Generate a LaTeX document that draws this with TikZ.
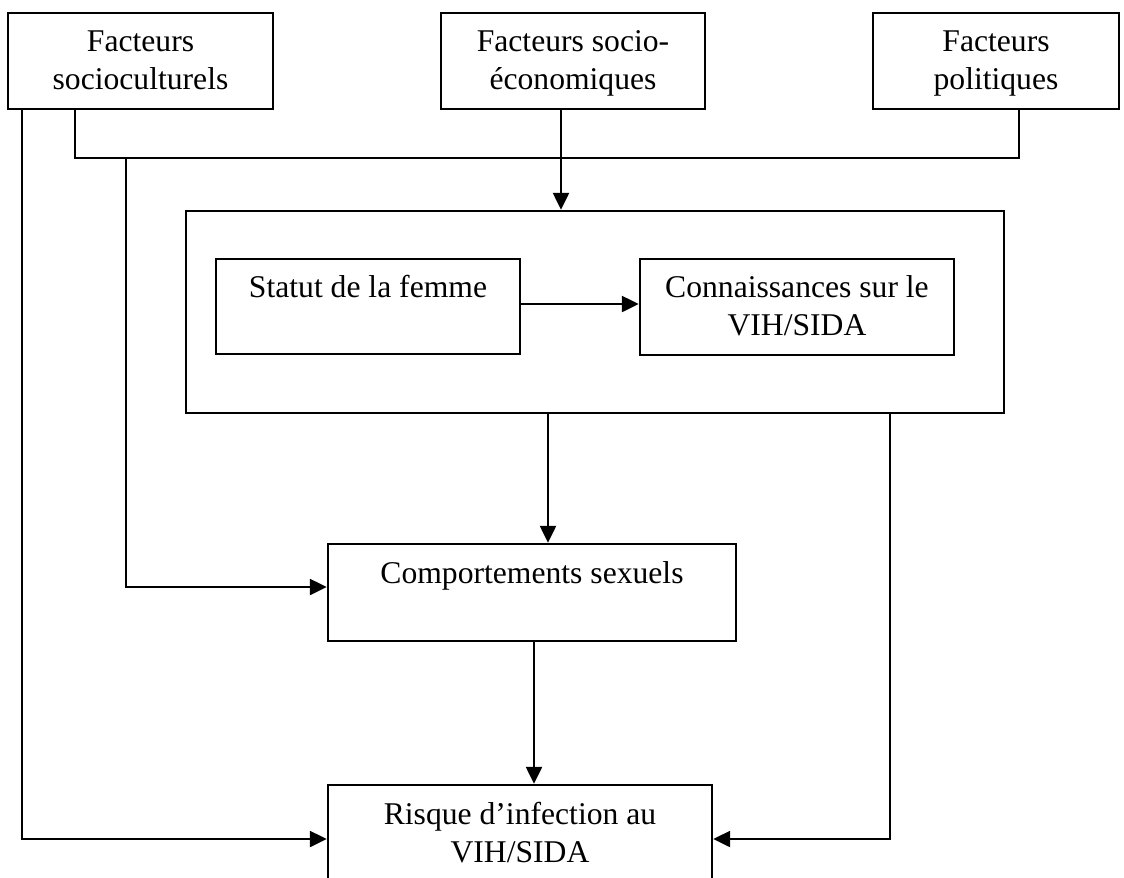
\documentclass[tikz,border=0pt]{standalone}
\usepackage{fontspec}
\setmainfont{Liberation Serif}
\usetikzlibrary{arrows.meta}

\begin{document}
\begin{tikzpicture}[
    boite/.style={draw, line width=1.4pt, align=center, inner sep=0pt, text depth=0.05cm,
        minimum height=1.92cm, font=\fontsize{18}{21.6}\selectfont},
    trait/.style={line width=1.4pt},
    fleche/.style={line width=1.4pt, -{Triangle[length=0.34cm,width=0.32cm]}}]
    \useasboundingbox (0,0) rectangle (22.48,-17.54);
    % facteurs du haut
    \node[boite, minimum width=5.30cm] (socio) at (2.81,-1.22) {Facteurs\\socioculturels};
    \node[boite, minimum width=5.28cm] (eco) at (11.46,-1.22) {Facteurs socio-\\économiques};
    \node[boite, minimum width=4.92cm] (poli) at (19.92,-1.22) {Facteurs\\politiques};
    % cadre central
    \node[boite, minimum width=16.36cm, minimum height=4.04cm] (cadre) at (11.90,-6.24) {};
    \node[boite, minimum width=6.08cm, minimum height=1.90cm] (statut) at (7.36,-6.13) {Statut de la femme\\~};
    \node[boite, minimum width=6.28cm] (conn) at (15.94,-6.14) {Connaissances sur le\\VIH/SIDA};
    % bas
    \node[boite, minimum width=8.16cm, minimum height=1.94cm] (comp) at (10.64,-11.85) {Comportements sexuels\\~};
    \node[boite, minimum width=7.68cm, minimum height=1.94cm] (risque) at (10.40,-16.67) {Risque d’infection au\\VIH/SIDA};
    % ligne commune
    \coordinate (busL) at (1.50,-3.16);
    \coordinate (busC) at (2.52,-3.16);
    \coordinate (busR) at (20.38,-3.16);
    \draw[trait] (socio.south -| busL) -- (busL) -- (busR) -- (poli.south -| busR);
    \draw[fleche] ([xshift=-0.24cm]eco.south) -- ([xshift=-0.24cm]eco.south |- cadre.north);
    \draw[fleche] (busC) |- ([yshift=0.11cm]comp.west);
    \draw[fleche] ([xshift=0.30cm]socio.south west) |- ([yshift=-0.11cm]risque.west);
    % fleches
    \draw[fleche] ([yshift=0.05cm]statut.east) -- ([yshift=0.05cm]statut.east -| conn.west);
    \draw[fleche] ([xshift=-0.94cm]cadre.south) -- ([xshift=-0.94cm]cadre.south |- comp.north);
    \draw[fleche] ([xshift=5.90cm]cadre.south) |- ([yshift=-0.11cm]risque.east);
    \draw[fleche] ([xshift=0.04cm]comp.south) -- ([xshift=0.04cm]comp.south |- risque.north);
\end{tikzpicture}
\end{document}
